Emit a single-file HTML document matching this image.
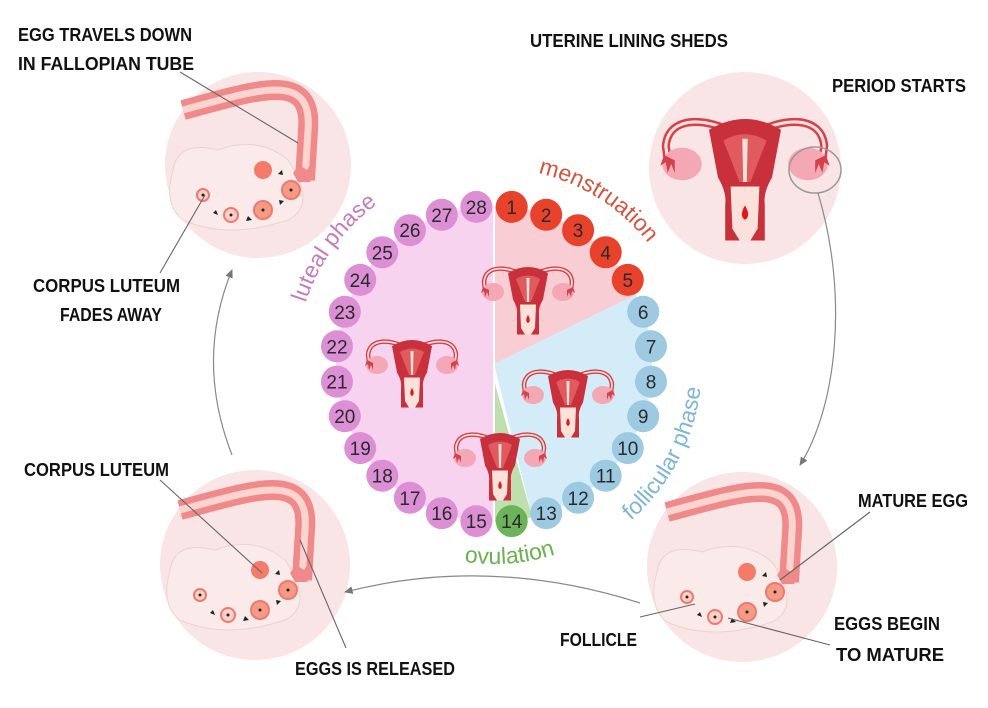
<!DOCTYPE html>
<html><head><meta charset="utf-8"><style>
html,body{margin:0;padding:0;background:#fff;}
svg{display:block;}
.lb{font-family:"Liberation Sans",sans-serif;font-weight:bold;font-size:18px;fill:#111;}
.n{font-family:"Liberation Sans",sans-serif;font-size:19px;fill:#2a2a2a;text-anchor:middle;}
.arc{font-family:"Liberation Sans",sans-serif;font-size:23px;}
</style></head><body>
<svg width="988" height="708" viewBox="0 0 988 708" xmlns="http://www.w3.org/2000/svg">
<defs>
<symbol id="ut" viewBox="-100 -10 200 160" overflow="visible">
  <path d="M-8 18 C-40 -2 -85 -5 -88 30 L-86 45" fill="none" stroke="#d4414b" stroke-width="9"/>
  <path d="M-8 18 C-40 -2 -85 -5 -88 30 L-86 45" fill="none" stroke="#fbe1da" stroke-width="3.5"/>
  <path d="M8 18 C40 -2 85 -5 88 30 L86 45" fill="none" stroke="#d4414b" stroke-width="9"/>
  <path d="M8 18 C40 -2 85 -5 88 30 L86 45" fill="none" stroke="#fbe1da" stroke-width="3.5"/>
  <ellipse cx="-70" cy="50" rx="22" ry="18" fill="#f4a8b6"/>
  <ellipse cx="70" cy="50" rx="22" ry="18" fill="#f4a8b6"/>
  <path d="M-90 40 l-4 12 l6 -4 l2 12 l4 -10 l4 10 l0 -14z" fill="#d4414b"/>
  <path d="M90 40 l4 12 l-6 -4 l-2 12 l-4 -10 l-4 10 l0 -14z" fill="#d4414b"/>
  <path d="M-40 12 Q0 -12 40 12 L30 65 Q20 82 22 95 L22 135 L-22 135 L-22 95 Q-20 82 -30 65 Z" fill="#c8303c"/>
  <path d="M-24 24 Q0 10 24 24 L6 70 L-6 70 Z" fill="#e05a5e"/>
  <path d="M-3 22 L3 22 L2 70 L-2 70Z" fill="#fbe1da"/>
  <path d="M-16 75 L16 75 L14 122 L6 135 L-6 135 L-14 122 Z" fill="#fbe1da"/>
  <path d="M0 96 Q7 108 0 112 Q-7 108 0 96Z" fill="#e01818"/>
</symbol>
<symbol id="ov" viewBox="-100 -100 200 200" overflow="visible">
  <path d="M-75 -55 C0 -75 55 -95 50 -35 L47 15" fill="none" stroke="#f08a8a" stroke-width="20"/>
  <path d="M-75 -55 C0 -75 55 -95 50 -35 L47 15" fill="none" stroke="#fbd3cf" stroke-width="7"/>
  <path d="M-85 5 Q-80 -25 -40 -15 Q0 -30 30 -5 Q60 40 30 55 Q-30 75 -75 55 Q-95 40 -85 5Z" fill="#fbeaea" stroke="#eed2d2" stroke-width="1"/>
  <path d="M35 8 l6 -8 l8 5 l4 -6 l4 10 l-5 8 l-12 0z" fill="#f08a8a"/>
  <circle cx="-55" cy="30" r="6" fill="#fbd0c8" stroke="#ee7a6e" stroke-width="2"/>
  <circle cx="-27" cy="50" r="7" fill="#fbd0c8" stroke="#ee7a6e" stroke-width="2"/>
  <circle cx="5" cy="45" r="9" fill="#f59a85" stroke="#ee7a6e" stroke-width="2"/>
  <circle cx="33" cy="25" r="9" fill="#f59a85" stroke="#ee7a6e" stroke-width="2"/>
  <circle cx="5" cy="5" r="9" fill="#f47a6a"/>
  <g fill="#222"><circle cx="-55" cy="30" r="1.5"/><circle cx="-27" cy="50" r="1.5"/><circle cx="5" cy="45" r="1.5"/><circle cx="33" cy="25" r="1.5"/>
  <path d="M-45 48 l5 2 l-2 -5z"/><path d="M-12 56 l6 -1 l-4 -4z"/><path d="M22 40 l4 -4 l-5 -1z"/><path d="M25 10 l-1 -5 l-4 4z"/></g>
</symbol>
<marker id="ah" viewBox="0 0 10 10" refX="8" refY="5" markerWidth="8" markerHeight="8" orient="auto"><path d="M0 1 L9 5 L0 9z" fill="#777"/></marker>
<path id="pm" d="M538.1 173.1 A196 196 0 0 1 683.3 313.2"/>
<path id="pl" d="M305.7 302.8 A198 198 0 0 1 426.3 177.9"/>
<path id="pf" d="M627.7 523.3 A208 208 0 0 0 698.8 327.9"/>
<path id="po" d="M425.6 552 A200 200 0 0 0 578.6 545.2"/>
</defs>

<circle cx="258" cy="165" r="93" fill="#f9e4e6"/>
<circle cx="745" cy="168" r="96" fill="#f9e4e6"/>
<circle cx="255" cy="565" r="95" fill="#f9e4e6"/>
<circle cx="742" cy="567" r="95" fill="#f9e4e6"/>
<use href="#ov" x="158" y="65" width="200" height="200"/>
<use href="#ov" x="155" y="465" width="200" height="200"/>
<use href="#ov" x="642" y="467" width="200" height="200"/>
<use href="#ut" x="655" y="110" width="180" height="144"/>
<ellipse cx="815" cy="170" rx="26" ry="23" fill="none" stroke="#999" stroke-width="1.5"/>

<path d="M818 193 C850 300 835 410 800 465" fill="none" stroke="#888" stroke-width="1.2" marker-end="url(#ah)"/>
<path d="M640 603 Q490 555 345 592" fill="none" stroke="#888" stroke-width="1.2" marker-end="url(#ah)"/>
<path d="M232 455 Q195 360 232 270" fill="none" stroke="#888" stroke-width="1.2" marker-end="url(#ah)"/>

<g stroke="#666" stroke-width="1.1">
<line x1="180" y1="72" x2="298" y2="143"/>
<line x1="160" y1="273" x2="205" y2="195"/>
<line x1="160" y1="480" x2="262" y2="573"/>
<line x1="346" y1="648" x2="300" y2="540"/>
<line x1="870" y1="512" x2="780" y2="580"/>
<line x1="640" y1="617" x2="695" y2="604"/>
<line x1="830" y1="645" x2="728" y2="618"/>
</g>

<path d="M494 206 A158 158 0 0 0 494 522 Z" fill="#f8d3f0"/>
<path d="M494 364 L494 206 A158 158 0 0 1 636 294.7 Z" fill="#f8cdd3"/>
<path d="M494 364 L636 294.7 A158 158 0 0 1 532.2 517.3 Z" fill="#d4ecf8"/>
<path d="M494 380 L532.2 517.3 A158 158 0 0 1 494 522 Z" fill="#bfe0ae"/>
<line x1="494" y1="206" x2="494" y2="522" stroke="#fff" stroke-width="2"/>

<use href="#ut" x="478" y="262" width="100" height="80"/>
<use href="#ut" x="362" y="335" width="100" height="80"/>
<use href="#ut" x="518" y="365" width="100" height="80"/>
<use href="#ut" x="450" y="428" width="100" height="80"/>

<g fill="#e8412c">
<circle cx="511.7" cy="206.9" r="16"/><circle cx="546.2" cy="214.8" r="16"/><circle cx="578.1" cy="230.2" r="16"/><circle cx="605.7" cy="252.3" r="16"/><circle cx="627.8" cy="279.9" r="16"/>
</g>
<g fill="#9dc9e1">
<circle cx="643.2" cy="311.8" r="16"/><circle cx="651" cy="346.3" r="16"/><circle cx="651" cy="381.7" r="16"/><circle cx="643.2" cy="416.2" r="16"/><circle cx="627.8" cy="448.1" r="16"/><circle cx="605.7" cy="475.7" r="16"/><circle cx="578.1" cy="497.8" r="16"/><circle cx="546.2" cy="513.2" r="16"/>
</g>
<circle cx="511.7" cy="521.1" r="16" fill="#6cb35a"/>
<g fill="#dc8fd5">
<circle cx="476.3" cy="521.1" r="16"/><circle cx="441.8" cy="513.2" r="16"/><circle cx="409.9" cy="497.8" r="16"/><circle cx="382.3" cy="475.7" r="16"/><circle cx="360.2" cy="448.1" r="16"/><circle cx="344.8" cy="416.2" r="16"/><circle cx="337" cy="381.7" r="16"/><circle cx="337" cy="346.3" r="16"/><circle cx="344.8" cy="311.8" r="16"/><circle cx="360.2" cy="279.9" r="16"/><circle cx="382.3" cy="252.3" r="16"/><circle cx="409.9" cy="230.2" r="16"/><circle cx="441.8" cy="214.8" r="16"/><circle cx="476.3" cy="206.9" r="16"/>
</g>
<g class="n">
<text x="511.7" y="213.9">1</text><text x="546.2" y="221.8">2</text><text x="578.1" y="237.2">3</text><text x="605.7" y="259.3">4</text><text x="627.8" y="286.9">5</text>
<text x="643.2" y="318.8">6</text><text x="651" y="353.3">7</text><text x="651" y="388.7">8</text><text x="643.2" y="423.2">9</text><text x="627.8" y="455.1">10</text><text x="605.7" y="482.7">11</text><text x="578.1" y="504.8">12</text><text x="546.2" y="520.2">13</text>
<text x="511.7" y="528.1">14</text><text x="476.3" y="528.1">15</text><text x="441.8" y="520.2">16</text><text x="409.9" y="504.8">17</text><text x="382.3" y="482.7">18</text><text x="360.2" y="455.1">19</text><text x="344.8" y="423.2">20</text><text x="337" y="388.7">21</text><text x="337" y="353.3">22</text><text x="344.8" y="318.8">23</text><text x="360.2" y="286.9">24</text><text x="382.3" y="259.3">25</text><text x="409.9" y="237.2">26</text><text x="441.8" y="221.8">27</text><text x="476.3" y="213.9">28</text>
</g>

<text class="arc" fill="#d6543e"><textPath href="#pm">menstruation</textPath></text>
<text class="arc" fill="#c37cc0"><textPath href="#pl">luteal phase</textPath></text>
<text class="arc" fill="#7fb6d6"><textPath href="#pf" startOffset="4">follicular phase</textPath></text>
<text class="arc" fill="#6cb04f"><textPath href="#po" startOffset="40">ovulation</textPath></text>

<g class="lb">
<text x="18" y="41" textLength="174" lengthAdjust="spacingAndGlyphs">EGG TRAVELS DOWN</text>
<text x="18" y="70" textLength="176" lengthAdjust="spacingAndGlyphs">IN FALLOPIAN TUBE</text>
<text x="530" y="47" textLength="198" lengthAdjust="spacingAndGlyphs">UTERINE LINING SHEDS</text>
<text x="832" y="92" textLength="134" lengthAdjust="spacingAndGlyphs">PERIOD STARTS</text>
<text x="33" y="292" textLength="147" lengthAdjust="spacingAndGlyphs">CORPUS LUTEUM</text>
<text x="60" y="321" textLength="102" lengthAdjust="spacingAndGlyphs">FADES AWAY</text>
<text x="24" y="476" textLength="145" lengthAdjust="spacingAndGlyphs">CORPUS LUTEUM</text>
<text x="295" y="675" textLength="160" lengthAdjust="spacingAndGlyphs">EGGS IS RELEASED</text>
<text x="858" y="507" textLength="110" lengthAdjust="spacingAndGlyphs">MATURE EGG</text>
<text x="560" y="646" textLength="77" lengthAdjust="spacingAndGlyphs">FOLLICLE</text>
<text x="834" y="630" textLength="106" lengthAdjust="spacingAndGlyphs">EGGS BEGIN</text>
<text x="836" y="661" textLength="108" lengthAdjust="spacingAndGlyphs">TO MATURE</text>
</g>
</svg>
</body></html>
